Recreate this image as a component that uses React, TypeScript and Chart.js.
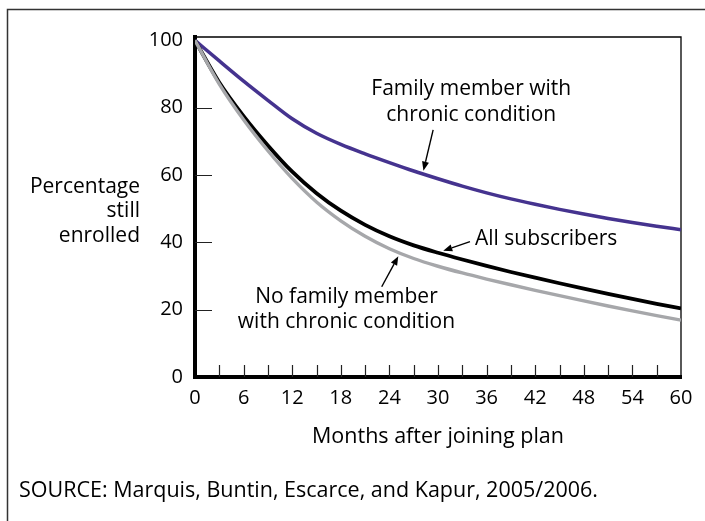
import React, { useEffect, useRef } from "react";
import { Chart, registerables } from "chart.js";

Chart.register(...registerables);

// ---- data ----
const months = [0, 3, 6, 9, 12, 15, 18, 21, 24, 27, 30, 33, 36, 39, 42, 45, 48, 51, 54, 57, 60];
const familyChronic = [100, 93.9, 87.9, 82.2, 76.7, 72.4, 69.1, 66.3, 63.7, 61.2, 58.9, 56.7, 54.7, 52.9, 51.3, 49.8, 48.4, 47.1, 45.9, 44.8, 43.75];
const allSubscribers = [100, 87.5, 77.5, 68.8, 61.0, 54.6, 49.4, 45.2, 41.8, 39.1, 36.9, 34.9, 33.0, 31.2, 29.5, 27.85, 26.25, 24.7, 23.2, 21.75, 20.35];
const noChronic = [100, 87, 76.4, 67.2, 59.0, 52.0, 46.4, 41.8, 38.1, 35.2, 32.9, 30.9, 29.1, 27.4, 25.75, 24.15, 22.6, 21.1, 19.65, 18.25, 16.9];

const xTickLabels = [0, 6, 12, 18, 24, 30, 36, 42, 48, 54, 60];
const xMinorTicks = [3, 6, 9, 12, 15, 18, 21, 24, 27, 30, 33, 36, 39, 42, 45, 48, 51, 54, 57];
const yTickLabels = [0, 20, 40, 60, 80, 100];
const yMinorTicks = [20, 40, 60, 80];

const xTitle = "Months after joining plan";
const yTitleLines = ["Percentage", "still", "enrolled"];
const sourceText = "SOURCE: Marquis, Buntin, Escarce, and Kapur, 2005/2006.";
const familyLabel = ["Family member with", "chronic condition"];
const allLabel = "All subscribers";
const noLabel = ["No family member", "with chronic condition"];

const FONT = "'Open Sans', 'Noto Sans', sans-serif";
const PURPLE = "#45338f";
const GRAY = "#a6a7aa";

const pts = (vals: number[]) => vals.map((v, i) => ({ x: months[i], y: v }));

function arrow(ctx: CanvasRenderingContext2D, x1: number, y1: number, x2: number, y2: number) {
  ctx.save();
  ctx.strokeStyle = "#000";
  ctx.fillStyle = "#000";
  ctx.lineWidth = 1.4;
  const ang = Math.atan2(y2 - y1, x2 - x1);
  const hl = 9, hw = 3.5;
  const bx = x2 - hl * Math.cos(ang);
  const by = y2 - hl * Math.sin(ang);
  ctx.beginPath();
  ctx.moveTo(x1, y1);
  ctx.lineTo(bx, by);
  ctx.stroke();
  ctx.beginPath();
  ctx.moveTo(x2, y2);
  ctx.lineTo(bx + hw * Math.sin(ang), by - hw * Math.cos(ang));
  ctx.lineTo(bx - hw * Math.sin(ang), by + hw * Math.cos(ang));
  ctx.closePath();
  ctx.fill();
  ctx.restore();
}

const overlay = {
  id: "overlay",
  beforeDraw(chart: any) {
    const { ctx, width, height } = chart;
    ctx.save();
    ctx.fillStyle = "#fff";
    ctx.fillRect(0, 0, width, height);
    ctx.strokeStyle = "#333";
    ctx.lineWidth = 1.5;
    ctx.beginPath();
    ctx.moveTo(7.5, height + 2);
    ctx.lineTo(7.5, 9.5);
    ctx.lineTo(width + 2, 9.5);
    ctx.stroke();
    ctx.restore();
  },
  beforeDatasetsDraw(chart: any) {
    const { ctx, chartArea: a, scales } = chart;
    const x = scales.x, y = scales.y;
    ctx.save();
    ctx.strokeStyle = "#000";
    ctx.lineWidth = 1.3;
    ctx.beginPath();
    ctx.moveTo(a.left, a.top);
    ctx.lineTo(a.right, a.top);
    ctx.lineTo(a.right, a.bottom);
    ctx.stroke();
    ctx.lineWidth = 1.2;
    ctx.strokeStyle = "#222";
    ctx.beginPath();
    for (const m of xMinorTicks) {
      const px = Math.round(x.getPixelForValue(m)) + 0.5;
      ctx.moveTo(px, a.bottom);
      ctx.lineTo(px, a.bottom - 12);
    }
    for (const v of yMinorTicks) {
      const py = Math.round(y.getPixelForValue(v)) + 0.5;
      ctx.moveTo(a.left, py);
      ctx.lineTo(a.left + 17, py);
    }
    ctx.stroke();
    ctx.restore();
  },
  afterDraw(chart: any) {
    const { ctx, chartArea: a, scales, height } = chart;
    const x = scales.x, y = scales.y;
    ctx.save();
    ctx.fillStyle = "#000";
    ctx.font = `21px ${FONT}`;
    ctx.textBaseline = "alphabetic";

    ctx.textAlign = "center";
    ctx.fillText(familyLabel[0], x.getPixelForValue(34.1), y.getPixelForValue(83.8));
    ctx.fillText(familyLabel[1], x.getPixelForValue(34.1), y.getPixelForValue(76.1));
    arrow(ctx, x.getPixelForValue(29.4), y.getPixelForValue(73.4), x.getPixelForValue(28.2), y.getPixelForValue(61.3));

    ctx.textAlign = "left";
    ctx.fillText(allLabel, x.getPixelForValue(34.57), y.getPixelForValue(39.2));
    arrow(ctx, x.getPixelForValue(33.95), y.getPixelForValue(40.2), x.getPixelForValue(30.65), y.getPixelForValue(37.5));

    ctx.textAlign = "center";
    ctx.fillText(noLabel[0], x.getPixelForValue(18.7), y.getPixelForValue(21.9));
    ctx.fillText(noLabel[1], x.getPixelForValue(18.7), y.getPixelForValue(14.5));
    arrow(ctx, x.getPixelForValue(23.05), y.getPixelForValue(26.8), x.getPixelForValue(25.1), y.getPixelForValue(35.9));

    ctx.textAlign = "right";
    const tx = a.left - 55;
    ctx.fillText(yTitleLines[0], tx, 193);
    ctx.fillText(yTitleLines[1], tx, 217);
    ctx.fillText(yTitleLines[2], tx, 242);

    ctx.textAlign = "left";
    ctx.textBaseline = "middle";
    ctx.font = `21.5px ${FONT}`;
    ctx.fillText(sourceText, 19, height - 30);
    ctx.restore();
  },
};

export default function App() {
  const ref = useRef<HTMLCanvasElement | null>(null);
  useEffect(() => {
    if (!ref.current) return;
    const tickFont = { family: FONT, size: 20 };
    const chart = new Chart(ref.current, {
      type: "line",
      data: {
        datasets: [
          { label: "No family member with chronic condition", data: pts(noChronic), borderColor: GRAY, borderWidth: 3.4, cubicInterpolationMode: "monotone", pointRadius: 0 },
          { label: "All subscribers", data: pts(allSubscribers), borderColor: "#000", borderWidth: 3.8, cubicInterpolationMode: "monotone", pointRadius: 0 },
          { label: "Family member with chronic condition", data: pts(familyChronic), borderColor: PURPLE, borderWidth: 3.5, cubicInterpolationMode: "monotone", pointRadius: 0 },
        ],
      },
      options: {
        responsive: false,
        animation: false,
        devicePixelRatio: 1,
        layout: { padding: { left: 0, top: 37, right: 24, bottom: 0 } },
        plugins: { legend: { display: false }, tooltip: { enabled: false } },
        scales: {
          x: {
            type: "linear",
            min: 0,
            max: 60,
            afterBuildTicks: (s: any) => { s.ticks = xTickLabels.map((v) => ({ value: v })); },
            afterFit: (s: any) => { s.height = 144; },
            grid: { display: false, drawTicks: false },
            border: { display: true, width: 4, color: "#000" },
            ticks: { font: tickFont, color: "#000", padding: 9, maxRotation: 0, autoSkip: false },
            title: { display: true, text: xTitle, font: { family: FONT, size: 21.5 }, color: "#000", padding: { top: 0, bottom: 71 } },
          },
          y: {
            type: "linear",
            min: 0,
            max: 101,
            afterBuildTicks: (s: any) => { s.ticks = yTickLabels.map((v) => ({ value: v })); },
            afterFit: (s: any) => { s.width = 195; },
            grid: { display: false, drawTicks: false },
            border: { display: true, width: 4, color: "#000" },
            ticks: { font: tickFont, color: "#000", padding: 12 },
          },
        },
      },
      plugins: [overlay],
    } as any);
    return () => chart.destroy();
  }, []);
  return (
    <div style={{ position: "absolute", left: 0, top: 0, width: 705, height: 521, background: "#fff" }}>
      <canvas ref={ref} width={705} height={521} style={{ display: "block", width: 705, height: 521 }} />
    </div>
  );
}
